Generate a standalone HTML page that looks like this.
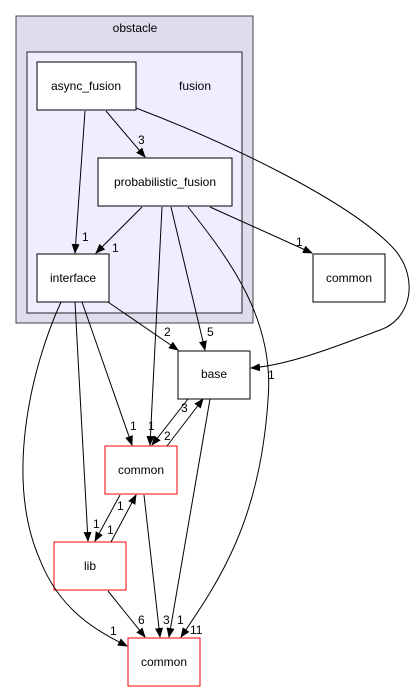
<!DOCTYPE html>
<html><head><style>body{margin:0;background:#fff}svg{display:block}text{font-family:"Liberation Sans",sans-serif;font-size:12px}</style></head><body>
<svg width="416" height="692" viewBox="0 0 416 692">
<defs><marker id="a" markerWidth="10" markerHeight="8" refX="9" refY="4" orient="auto" markerUnits="userSpaceOnUse"><path d="M0,0L10,4L0,8z" fill="#000"/></marker></defs>
<rect x="16" y="16" width="237" height="307" fill="#ddddee" stroke="#444" stroke-width="1"/>
<text x="135" y="32" text-anchor="middle">obstacle</text>
<rect x="27" y="52" width="215" height="261" fill="#eeeeff" stroke="#222"/>
<text x="195" y="90" text-anchor="middle">fusion</text>
<g fill="#fff" stroke="#000">
<rect x="37" y="62" width="99" height="48"/>
<rect x="98" y="158" width="134" height="48"/>
<rect x="37" y="254" width="72" height="48"/>
<rect x="313" y="254" width="72" height="48"/>
<rect x="178" y="351" width="72" height="48"/>
</g>
<g fill="#fff" stroke="#f00">
<rect x="105" y="446" width="72" height="48"/>
<rect x="54" y="542" width="72" height="48"/>
<rect x="128" y="638" width="72" height="48"/>
</g>
<g text-anchor="middle">
<text x="86" y="90">async_fusion</text>
<text x="165" y="186">probabilistic_fusion</text>
<text x="73" y="282">interface</text>
<text x="349" y="282">common</text>
<text x="214" y="378">base</text>
<text x="141" y="474">common</text>
<text x="90" y="570">lib</text>
<text x="164" y="666">common</text>
</g>
<g fill="none" stroke="#000" stroke-width="1" marker-end="url(#a)">
<path d="M85,111L75,253"/>
<path d="M106,111L145,157"/>
<path d="M136,108C220,140 350,200 395,250C420,280 410,320 380,330C340,345 290,365 251,368"/>
<path d="M142,207L96,253"/>
<path d="M210,207L312,253"/>
<path d="M162,207L150,445"/>
<path d="M171,207L205,350"/>
<path d="M188,207C230,260 275,320 268,400C260,520 220,580 181,637"/>
<path d="M108,302L178,350"/>
<path d="M82,302L132,445"/>
<path d="M75,302L88,541"/>
<path d="M61,302C30,370 5,480 40,560C60,610 95,630 127,646"/>
<path d="M188,399L152,445"/>
<path d="M167,446L203,399"/>
<path d="M120,495L95,541"/>
<path d="M111,542L136,495"/>
<path d="M144,495L160,637"/>
<path d="M210,399L169,637"/>
<path d="M108,591L145,637"/>
</g>
<g font-size="12">
<text x="82" y="241">1</text><text x="138" y="144">3</text><text x="268" y="379">1</text>
<text x="112" y="252">1</text><text x="296" y="246">1</text>
<text x="148" y="430">1</text><text x="207" y="336">5</text>
<text x="190" y="634">11</text>
<text x="164" y="336">2</text><text x="130" y="430">1</text>
<text x="93" y="528">1</text><text x="110" y="635">1</text>
<text x="181" y="412">3</text><text x="164" y="440">2</text>
<text x="117" y="510">1</text><text x="107" y="534">1</text>
<text x="163" y="624">3</text><text x="177" y="624">1</text>
<text x="138" y="624">6</text>
</g>
</svg>
</body></html>
